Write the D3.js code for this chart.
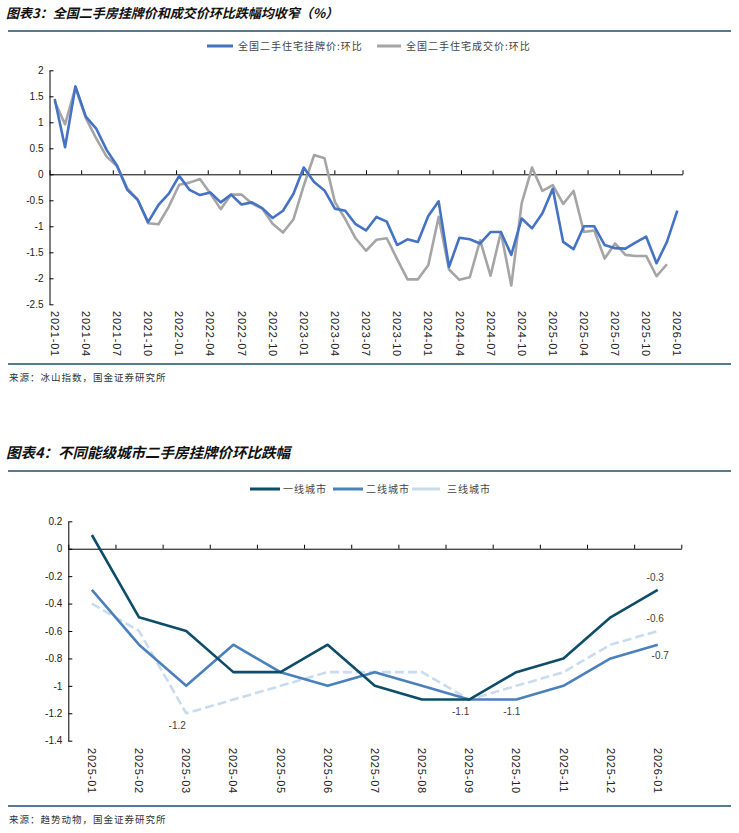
<!DOCTYPE html>
<html>
<head>
<meta charset="utf-8">
<script src="https://cdn.jsdelivr.net/npm/d3@7"></script>
<style>
  body { margin: 0; background: #fff; }
  svg text { font-family: "Liberation Sans", Arial, sans-serif; }
  .cjk { font-family: "Noto Sans CJK SC", sans-serif; }
</style>
</head>
<body>
<div id="chart"></div>
<script>
// ---- chart 1 data: monthly, 2021-01 .. 2026-01
var monthsStart = new Date(2021, 0, 1);
var monthsEnd = new Date(2026, 1, 1);
var xTicks1 = ["2021-01","2021-04","2021-07","2021-10","2022-01","2022-04","2022-07","2022-10",
  "2023-01","2023-04","2023-07","2023-10","2024-01","2024-04","2024-07","2024-10",
  "2025-01","2025-04","2025-07","2025-10","2026-01"];
var yTicks1 = [2, 1.5, 1, 0.5, 0, -0.5, -1, -1.5, -2, -2.5];
var series1Names = ["全国二手住宅挂牌价:环比", "全国二手住宅成交价:环比"];
var listing = [1.45, 0.52, 1.69, 1.11, 0.88, 0.47, 0.17, -0.30, -0.49, -0.92, -0.59, -0.37,
  -0.03, -0.30, -0.40, -0.35, -0.54, -0.39, -0.58, -0.54, -0.65, -0.84, -0.70, -0.38,
  0.13, -0.15, -0.31, -0.66, -0.70, -0.96, -1.08, -0.82, -0.91, -1.36, -1.25, -1.30,
  -0.80, -0.52, -1.78, -1.22, -1.25, -1.33, -1.11, -1.11, -1.55, -0.85, -1.04, -0.75,
  -0.28, -1.30, -1.44, -1.00, -1.00, -1.36, -1.42, -1.43, -1.31, -1.20, -1.71, -1.30,
  -0.70];
var deal = [1.40, 0.96, 1.67, 1.08, 0.69, 0.34, 0.16, -0.27, -0.49, -0.94, -0.96, -0.62,
  -0.20, -0.16, -0.09, -0.37, -0.67, -0.39, -0.39, -0.56, -0.66, -0.95, -1.12, -0.87,
  -0.22, 0.37, 0.31, -0.53, -0.86, -1.23, -1.47, -1.26, -1.23, -1.63, -2.02, -2.02,
  -1.75, -0.82, -1.83, -2.03, -1.98, -1.27, -1.95, -1.11, -2.14, -0.56, 0.13, -0.32,
  -0.21, -0.57, -0.32, -1.11, -1.08, -1.62, -1.33, -1.55, -1.57, -1.57, -1.96, -1.73,
  null];

// ---- chart 2 data: monthly, 2025-01 .. 2026-01
var months2 = ["2025-01","2025-02","2025-03","2025-04","2025-05","2025-06","2025-07",
  "2025-08","2025-09","2025-10","2025-11","2025-12","2026-01"];
var yTicks2 = [0.2, 0, -0.2, -0.4, -0.6, -0.8, -1, -1.2, -1.4];
var series2Names = ["一线城市", "二线城市", "三线城市"];
var tier1 = [0.1, -0.5, -0.6, -0.9, -0.9, -0.7, -1.0, -1.1, -1.1, -0.9, -0.8, -0.5, -0.3];
var tier2 = [-0.3, -0.7, -1.0, -0.7, -0.9, -1.0, -0.9, -1.0, -1.1, -1.1, -1.0, -0.8, -0.7];
var tier3 = [-0.4, -0.6, -1.2, -1.1, -1.0, -0.9, -0.9, -0.9, -1.1, -1.0, -0.9, -0.7, -0.6];
// which points carry a value label: [series index, month index]
var labelled2 = [[2, 2], [0, 8], [1, 9], [0, 12], [2, 12], [1, 12]];

var fmtMonth = d3.timeFormat("%Y-%m");
var months1 = d3.timeMonth.range(monthsStart, monthsEnd).map(fmtMonth);

var W = 739, H = 833;
var ruleColor = "#1b4f6a";

var svg = d3.select("#chart").append("svg")
  .attr("width", W)
  .attr("height", H);

function header(top, title, titleSize) {
  svg.append("text")
    .attr("class", "cjk")
    .attr("x", 6)
    .attr("y", top)
    .attr("font-size", titleSize)
    .attr("font-weight", 700)
    .attr("font-style", "italic")
    .attr("fill", "#111")
    .text(title);
  svg.append("line")
    .attr("x1", 8).attr("x2", 731)
    .attr("y1", top + 13).attr("y2", top + 13)
    .attr("stroke", ruleColor)
    .attr("stroke-width", 1.5);
}

function footer(y, source) {
  svg.append("line")
    .attr("x1", 8).attr("x2", 731)
    .attr("y1", y).attr("y2", y)
    .attr("stroke", ruleColor)
    .attr("stroke-width", 1.5);
  svg.append("text")
    .attr("class", "cjk")
    .attr("x", 9)
    .attr("y", y + 17)
    .attr("font-size", 9.5)
    .attr("letter-spacing", 1)
    .attr("fill", "#333")
    .text(source);
}

function legend(y, items) {
  items.forEach(function(it) {
    svg.append("line")
      .attr("x1", it.x).attr("x2", it.x + it.len)
      .attr("y1", y).attr("y2", y)
      .attr("stroke", it.color)
      .attr("stroke-width", 3);
    svg.append("text")
      .attr("class", "cjk")
      .attr("x", it.x + it.len + it.gap)
      .attr("y", y + 4)
      .attr("font-size", 10)
      .attr("letter-spacing", 1)
      .attr("fill", "#444")
      .text(it.name);
  });
}

function axes(x, y, yTicks, boundaries, tickEvery, labelTop, labels) {
  var g = svg.append("g");
  var left = x.range()[0], right = x.range()[1];

  var yAxis = d3.axisLeft(y)
    .tickValues(yTicks)
    .tickFormat(function(d) { return String(d); })
    .tickSizeInner(-4)
    .tickSizeOuter(0)
    .tickPadding(6);
  g.append("g")
    .attr("transform", "translate(" + left + ",0)")
    .call(yAxis)
    .call(function(s) {
      s.selectAll("text").attr("font-size", 10).attr("fill", "#222")
        .attr("font-family", "Liberation Sans, Arial, sans-serif");
      s.selectAll("line,path").attr("stroke", "#000");
    });

  // category boundaries along the zero line, ticks pointing up
  var b = d3.scaleLinear().domain([0, boundaries]).range([left, right]);
  var xAxis = d3.axisTop(b)
    .tickValues(d3.range(0, boundaries + 1, tickEvery).filter(function(v) { return v <= boundaries; }))
    .tickFormat("")
    .tickSizeInner(4)
    .tickSizeOuter(0);
  g.append("g")
    .attr("transform", "translate(0," + y(0) + ")")
    .call(xAxis)
    .call(function(s) { s.selectAll("line,path").attr("stroke", "#000"); });

  // rotated month labels under the plot
  g.selectAll("text.xl")
    .data(labels)
    .enter()
    .append("text")
    .attr("class", "xl")
    .attr("transform", function(d) {
      return "translate(" + (x(d) + x.bandwidth() / 2) + "," + labelTop + ") rotate(90)";
    })
    .attr("dy", "0.35em")
    .attr("font-size", 11)
    .attr("letter-spacing", 0.8)
    .attr("fill", "#222")
    .text(function(d) { return d; });
}

function drawLine(x, y, cats, values, color, width, dash) {
  var line = d3.line()
    .defined(function(d) { return d.v != null; })
    .x(function(d) { return x(d.c) + x.bandwidth() / 2; })
    .y(function(d) { return y(d.v); });
  svg.append("path")
    .datum(cats.map(function(c, i) { return { c: c, v: values[i] }; }))
    .attr("fill", "none")
    .attr("stroke", color)
    .attr("stroke-width", width)
    .attr("stroke-linejoin", "round")
    .attr("stroke-dasharray", dash || null)
    .attr("d", line);
}

// ================= chart 1 =================
header(18, "图表3：全国二手房挂牌价和成交价环比跌幅均收窄（%）", 13);
var colors1 = ["#4472c4", "#a5a5a5"];
legend(46, [
  { x: 207, len: 26, gap: 5, color: colors1[0], name: series1Names[0] },
  { x: 377, len: 24, gap: 5, color: colors1[1], name: series1Names[1] }
]);

var x1 = d3.scaleBand().domain(months1).range([49.5, 682.5]);
var y1 = d3.scaleLinear().domain([-2.5, 2]).range([304.3, 70.3]);
axes(x1, y1, yTicks1, months1.length - 1, 3, 311, xTicks1);
drawLine(x1, y1, months1, deal, colors1[1], 2.6);
drawLine(x1, y1, months1, listing, colors1[0], 2.6);

footer(364, "来源：冰山指数，国金证券研究所");

// ================= chart 2 =================
header(458, "图表4：不同能级城市二手房挂牌价环比跌幅", 14.5);
var colors2 = ["#0e4d69", "#4a80bb", "#c9dcee"];
legend(489, [
  { x: 250, len: 30, gap: 3, color: colors2[0], name: series2Names[0] },
  { x: 333, len: 30, gap: 3, color: colors2[1], name: series2Names[1] },
  { x: 412, len: 28, gap: 7, color: colors2[2], name: series2Names[2] }
]);

var x2 = d3.scaleBand().domain(months2).range([68.3, 681.3]);
var y2 = d3.scaleLinear().domain([-1.4, 0.2]).range([740.7, 521.3]);
axes(x2, y2, yTicks2, months2.length, 1, 748, months2);

var series2 = [tier1, tier2, tier3];
drawLine(x2, y2, months2, tier3, colors2[2], 2.6, "9,4");
drawLine(x2, y2, months2, tier2, colors2[1], 2.6);
drawLine(x2, y2, months2, tier1, colors2[0], 2.6);

// value labels: offsets relative to the point
var labelOffsets = [[-9, 16], [-8.5, 15.5], [-4.5, 15.5], [-2.5, -9], [-2.5, -9], [2.5, 14.5]];
svg.selectAll("text.vl")
  .data(labelled2)
  .enter()
  .append("text")
  .attr("class", "vl")
  .attr("text-anchor", "middle")
  .attr("x", function(d, k) { return x2(months2[d[1]]) + x2.bandwidth() / 2 + labelOffsets[k][0]; })
  .attr("y", function(d, k) { return y2(series2[d[0]][d[1]]) + labelOffsets[k][1]; })
  .attr("font-size", 10)
  .attr("fill", "#404040")
  .text(function(d) { return String(series2[d[0]][d[1]]); });

footer(806, "来源：趋势动物，国金证券研究所");
</script>
</body>
</html>
